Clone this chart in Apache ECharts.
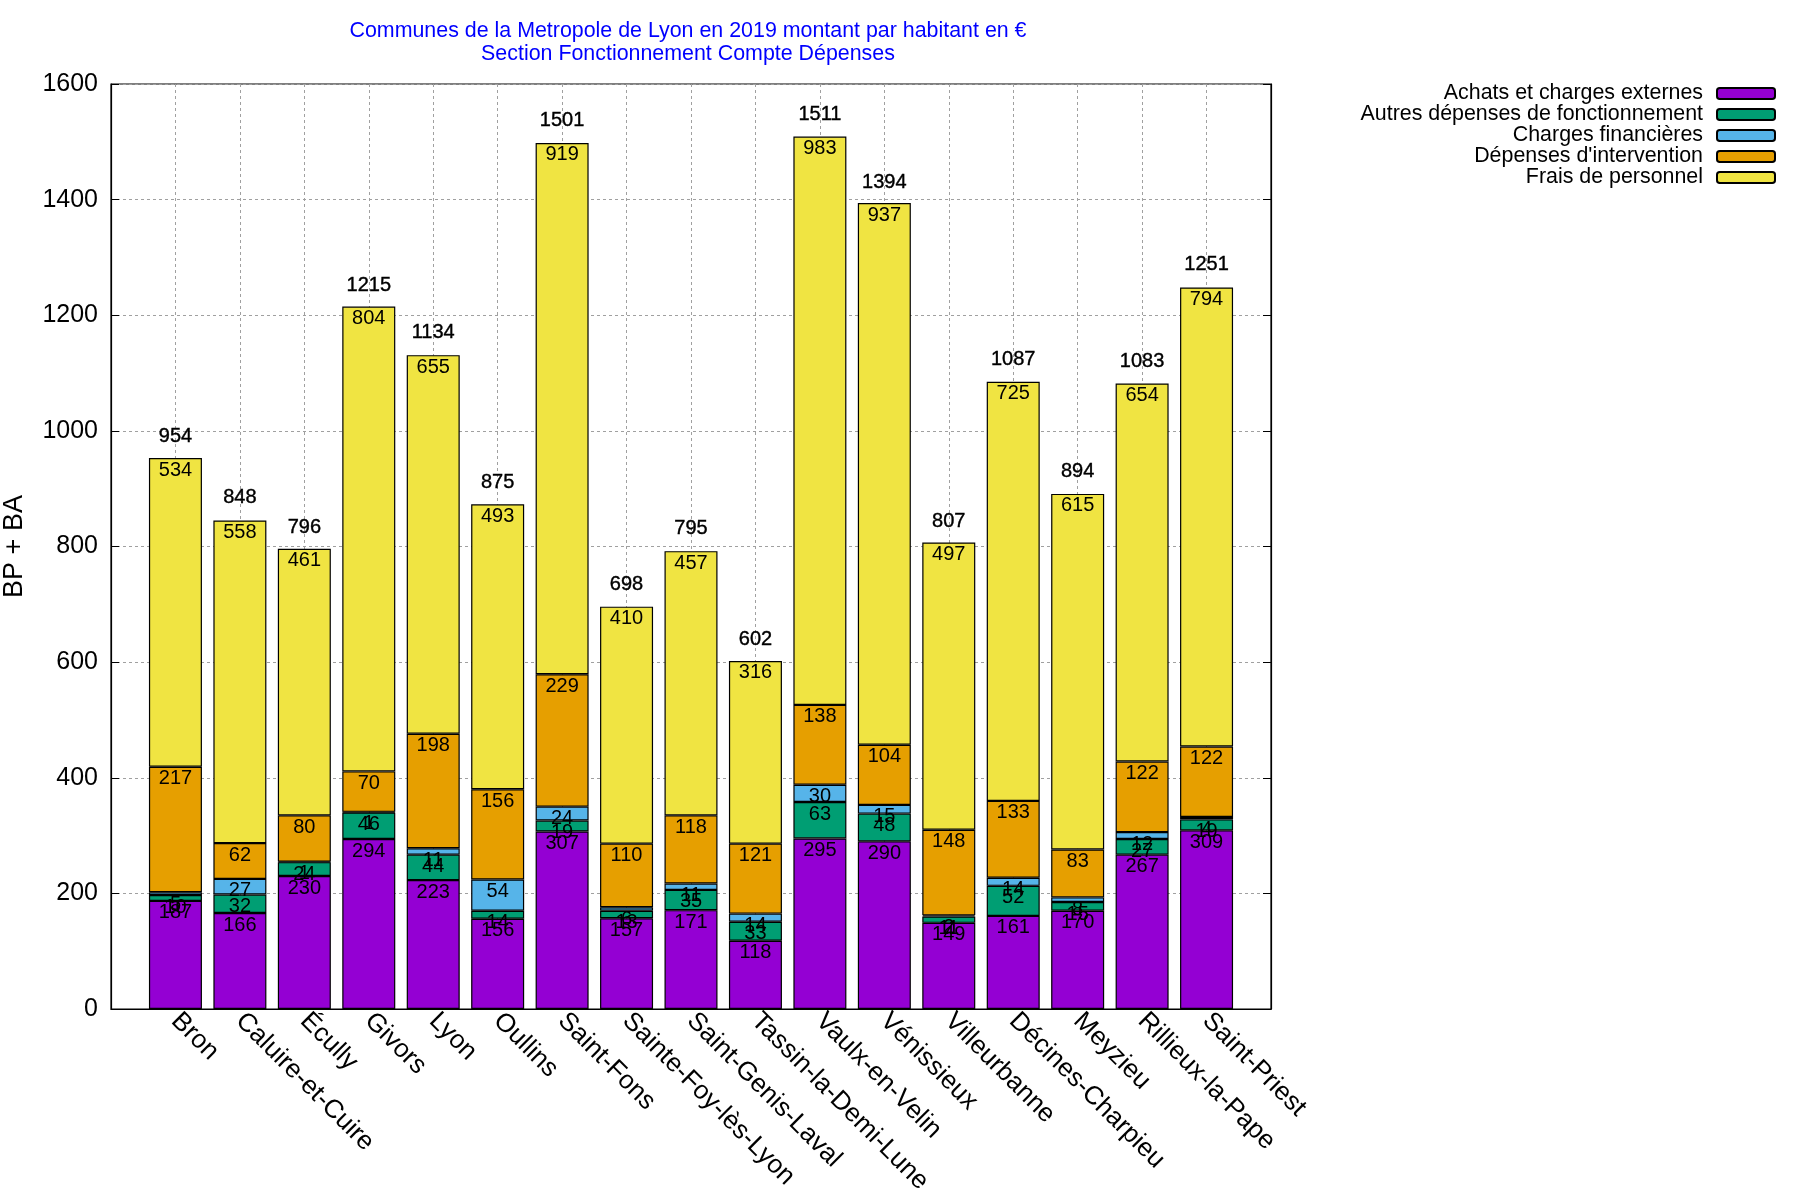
<!DOCTYPE html>
<html>
<head>
<meta charset="utf-8">
<script src="https://cdn.jsdelivr.net/npm/echarts@6/dist/echarts.min.js"></script>
<style>
html,body{margin:0;padding:0;background:#fff;}
#chart{width:1800px;height:1200px;}
</style>
</head>
<body>
<div id="chart"></div>
<script>
const categories = ["Bron","Caluire-et-Cuire","Écully","Givors","Lyon","Oullins","Saint-Fons","Sainte-Foy-lès-Lyon","Saint-Genis-Laval","Tassin-la-Demi-Lune","Vaulx-en-Velin","Vénissieux","Villeurbanne","Décines-Charpieu","Meyzieu","Rillieux-la-Pape","Saint-Priest"];
const achats     = [187,166,230,294,223,156,307,157,171,118,295,290,149,161,170,267,309];
const autres     = [10, 32, 24, 46, 44, 14, 19, 13, 35, 33, 63, 48, 11, 52, 15, 27, 19];
const financieres= [5,  27, 1,  1,  11, 54, 24, 6,  11, 14, 30, 15, 2,  14, 8,  12, 4];
const intervention=[217,62, 80, 70, 198,156,229,110,118,121,138,104,148,133,83, 122,122];
const personnel  = [534,558,461,804,655,493,919,410,457,316,983,937,497,725,615,654,794];
const totals     = [954,848,796,1215,1134,875,1501,698,795,602,1511,1394,807,1087,894,1083,1251];
const seriesNames = ["Achats et charges externes","Autres dépenses de fonctionnement","Charges financières","Dépenses d'intervention","Frais de personnel"];
const seriesColors = ["#9400D3","#009E73","#56B4E9","#E69F00","#F0E442"];
const seriesData = [achats, autres, financieres, intervention, personnel];
const yTicks = {min:0, max:1600, interval:200};

const FONT = "Liberation Sans, Arial, sans-serif";
const chart = echarts.init(document.getElementById('chart'));

// x range has one empty slot before the first and after the last commune
const axisCats = [' '].concat(categories, ['  ']);
const lastIdx = axisCats.length - 1;

const series = seriesData.map((d, i) => ({
  name: seriesNames[i],
  type: 'bar',
  stack: 'total',
  data: categories.map((c, k) => [c, d[k]]),
  barWidth: 53,
  itemStyle: {color: seriesColors[i], borderColor: '#000', borderWidth: 1.2},
  label: {show: true, position: 'insideTop', distance: 2, color: '#000', fontFamily: FONT, fontSize: 20,
          formatter: p => String(p.value[1])},
  emphasis: {disabled: true}
}));
series.push({
  name: 'total',
  type: 'scatter',
  data: categories.map((c, k) => [c, totals[k]]),
  symbolSize: 0,
  itemStyle: {opacity: 1},
  label: {show: true, position: 'top', distance: 11, color: '#000', fontFamily: FONT, fontSize: 20,
          textBorderColor: '#000', textBorderWidth: 0.4, formatter: p => String(p.value[1])},
  silent: true,
  z: 10
});

chart.setOption({
  backgroundColor: '#fff',
  animation: false,
  title: {
    text: 'Communes de la Metropole de Lyon en 2019 montant par habitant en €\nSection Fonctionnement Compte Dépenses',
    left: 683, top: 15, textAlign: 'center',
    textStyle: {color: '#0000FF', fontFamily: FONT, fontSize: 21.4, fontWeight: 'normal', lineHeight: 23}
  },
  legend: {
    data: seriesNames,
    orient: 'vertical',
    right: 19, top: 78,
    align: 'right',
    itemWidth: 58, itemHeight: 11, itemGap: 0,
    textStyle: {fontFamily: FONT, fontSize: 21.4, color: '#000', padding: [0, 9, 0, 0], lineHeight: 21},
    selectedMode: false
  },
  grid: {left: 111, right: 529, top: 84, bottom: 191, show: true, borderColor: '#000', borderWidth: 1.2,
         containLabel: false, outerBoundsMode: 'none'},
  xAxis: {
    type: 'category', data: axisCats, boundaryGap: false,
    axisLine: {lineStyle: {color: '#000', width: 1.2}},
    axisTick: {show: true, inside: true, length: 7, lineStyle: {color: '#000'},
               interval: (idx) => idx > 0 && idx < lastIdx},
    axisLabel: {rotate: -45, fontFamily: FONT, fontSize: 26, color: '#000', margin: 8, interval: 0},
    splitLine: {show: true, interval: 0, lineStyle: {color: '#a0a0a0', type: [3, 3], width: 1}}
  },
  yAxis: [
    {
      type: 'value', min: yTicks.min, max: yTicks.max, interval: yTicks.interval,
      name: 'BP + BA', nameLocation: 'middle', nameGap: 83, nameRotate: 90,
      nameTextStyle: {fontFamily: FONT, fontSize: 27, color: '#000'},
      axisLine: {show: true, lineStyle: {color: '#000', width: 1.2}},
      axisTick: {show: true, inside: true, length: 8, lineStyle: {color: '#000'}},
      axisLabel: {fontFamily: FONT, fontSize: 25, color: '#000', margin: 13, formatter: v => String(v)},
      splitLine: {show: true, lineStyle: {color: '#a0a0a0', type: [3, 3], width: 1}}
    },
    {
      type: 'value', min: yTicks.min, max: yTicks.max, interval: yTicks.interval, position: 'right',
      axisLine: {show: true, lineStyle: {color: '#000', width: 1.2}},
      axisTick: {show: true, inside: true, length: 8, lineStyle: {color: '#000'}},
      axisLabel: {show: false}, splitLine: {show: false}
    }
  ],
  series: series
});
</script>
</body>
</html>
